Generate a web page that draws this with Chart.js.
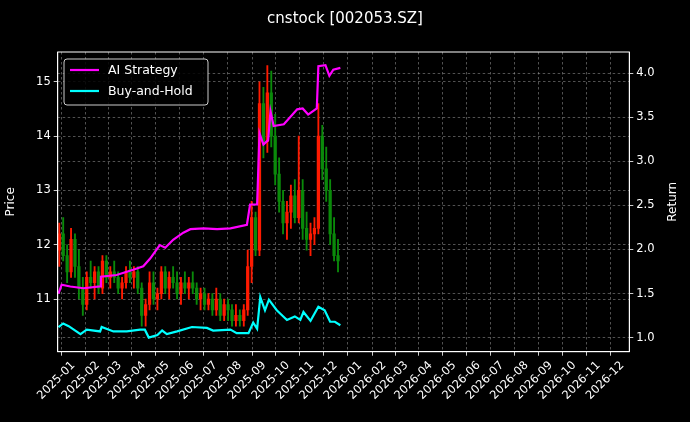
<!DOCTYPE html>
<html>
<head>
<meta charset="utf-8">
<script src="https://cdn.jsdelivr.net/npm/chart.js@4"></script>
<style>
  html, body { margin: 0; padding: 0; background: #000; }
  #wrap { width: 690px; height: 422px; }
</style>
</head>
<body>
<div id="wrap"><canvas id="c" width="690" height="422"></canvas></div>
<script>
// days counted from 2025-01-01
var monthLabels = ['2025-01','2025-02','2025-03','2025-04','2025-05','2025-06','2025-07','2025-08','2025-09','2025-10','2025-11','2025-12',
                   '2026-01','2026-02','2026-03','2026-04','2026-05','2026-06','2026-07','2026-08','2026-09','2026-10','2026-11','2026-12'];

var candleDays = [-18,-13,-8,-3,2,7,12,17,22,27,32,37,42,47,52,57,62,67,72,77,82,87,92,97,102,107,112,117,122,127,132,137,142,147,152,157,162,167,172,177,182,187,192,197,202,207,212,217,222,227,232,237,242,247,252,257,262,267,272,277,282,287,292,297,302,307,312,317,322,327,332,337];
var opens  = [11.9,12.2,11.8,11.5,12.1,11.6,11.2,10.9,11.4,11.3,11.5,11.2,11.7,11.4,11.5,11.4,11.2,11.3,11.5,11.4,11.5,11.2,10.7,10.9,11.3,11.0,11.1,11.5,11.2,11.4,11.3,11.1,11.3,11.2,11.3,11.2,11.0,11.1,10.9,11.0,10.8,11.0,10.7,10.9,10.8,10.6,10.7,10.6,10.8,11.6,12.5,11.9,14.6,13.9,14.8,14.0,13.3,12.8,12.4,12.6,12.9,12.5,13.0,12.3,12.1,12.2,12.3,14.0,13.4,13.0,12.2,11.8];
var highs  = [12.4,12.5,12.0,12.3,12.2,11.9,11.4,11.5,11.7,11.6,11.6,11.8,11.8,11.6,11.7,11.5,11.4,11.6,11.7,11.6,11.6,11.3,11.0,11.5,11.5,11.2,11.6,11.6,11.5,11.6,11.5,11.4,11.5,11.4,11.5,11.3,11.2,11.2,11.1,11.1,11.2,11.1,11.0,11.0,10.9,10.9,10.8,10.9,11.9,12.8,12.6,15.0,14.9,15.3,15.2,14.4,13.6,13.0,12.8,13.1,13.2,14.0,13.2,12.6,12.4,12.5,14.6,14.2,13.8,13.2,12.5,12.1];
var lows   = [11.6,11.7,11.3,11.4,11.4,11.0,10.7,10.8,11.2,11.0,11.1,11.1,11.3,11.2,11.3,11.1,11.0,11.2,11.3,11.2,11.1,10.5,10.5,10.8,10.9,10.8,11.0,11.1,11.0,11.2,11.0,10.9,11.1,11.0,11.1,10.9,10.8,10.8,10.8,10.7,10.7,10.6,10.6,10.6,10.5,10.5,10.5,10.5,10.7,11.3,11.8,11.8,13.6,13.7,13.8,13.1,12.6,12.2,12.1,12.3,12.4,12.4,12.1,11.9,11.8,12.0,12.2,13.2,12.8,12.0,11.7,11.5];
var closes = [12.2,11.8,11.5,12.1,11.6,11.2,10.9,11.4,11.3,11.5,11.2,11.7,11.4,11.5,11.4,11.2,11.3,11.5,11.4,11.5,11.2,10.7,10.9,11.3,11.0,11.1,11.5,11.2,11.4,11.3,11.1,11.3,11.2,11.3,11.2,11.0,11.1,10.9,11.0,10.8,11.0,10.7,10.9,10.8,10.6,10.7,10.6,10.8,11.6,12.5,11.9,14.6,13.9,14.8,14.0,13.3,12.8,12.4,12.6,12.9,12.5,13.0,12.3,12.1,12.2,12.3,14.0,13.4,13.0,12.2,11.8,11.7];

var aiDays   = [-19,-15,-4,13,34,35,55,76,89,98,110,117,127,140,149,166,183,200,221,225,234,237,242,248,251,255,268,285,292,299,310,312,321,326,331,340];
var aiReturn = [1.50,1.60,1.58,1.56,1.58,1.69,1.71,1.77,1.81,1.90,2.05,2.02,2.11,2.19,2.23,2.24,2.23,2.24,2.28,2.51,2.51,3.32,3.19,3.24,3.57,3.40,3.42,3.59,3.60,3.53,3.60,4.08,4.09,3.97,4.04,4.06];

var bhDays   = [-19,-13,-6,9,17,34,36,51,68,85,91,96,107,113,119,132,151,170,178,200,208,223,229,234,238,244,249,259,272,282,289,293,302,312,320,327,333,340];
var bhReturn = [1.12,1.16,1.13,1.04,1.09,1.07,1.12,1.07,1.07,1.09,1.09,1.00,1.03,1.08,1.04,1.07,1.12,1.11,1.08,1.09,1.05,1.05,1.17,1.10,1.46,1.31,1.43,1.31,1.20,1.24,1.20,1.29,1.19,1.35,1.31,1.18,1.18,1.14];

function dayOf(label) {
    var p = label.split('-');
    return (Date.UTC(+p[0], +p[1] - 1, 1) - Date.UTC(2025, 0, 1)) / 86400000;
}
var monthDays = monthLabels.map(dayOf);

var UP = '#ff1a00', DOWN = '#0a8a0a';
var candleColors = closes.map(function (c, i) { return c >= opens[i] ? UP : DOWN; });
var wickData = candleDays.map(function (d, i) { return { x: d, y: [lows[i], highs[i]] }; });
var bodyData = candleDays.map(function (d, i) { return { x: d, y: [opens[i], closes[i]] }; });
var aiData = aiDays.map(function (d, i) { return { x: d, y: aiReturn[i] }; });
var bhData = bhDays.map(function (d, i) { return { x: d, y: bhReturn[i] }; });

var FONT = 'DejaVu Sans';
var gridStyle = { color: 'rgba(170,170,170,0.6)', tickColor: '#fff', tickLength: 4, lineWidth: 0.8 };
var borderStyle = { color: '#fff', dash: [2.5, 2.5] };

var overlay = {
    id: 'overlay',
    beforeDraw: function (chart) {
        var ctx = chart.ctx;
        ctx.save();
        ctx.fillStyle = '#000';
        ctx.fillRect(0, 0, chart.width, chart.height);
        ctx.restore();
    },
    afterDraw: function (chart) {
        var ctx = chart.ctx, a = chart.chartArea;
        ctx.save();
        ctx.strokeStyle = '#fff';
        ctx.lineWidth = 1;
        ctx.setLineDash([]);
        ctx.strokeRect(a.left, a.top, a.right - a.left, a.bottom - a.top);
        ctx.fillStyle = '#fff';
        ctx.font = '15px ' + FONT;
        ctx.textAlign = 'center';
        ctx.textBaseline = 'middle';
        ctx.fillText('cnstock [002053.SZ]', 345, 19);
        // right axis title, read bottom to top
        ctx.save();
        ctx.translate(673, (a.top + a.bottom) / 2);
        ctx.rotate(-Math.PI / 2);
        ctx.font = '12px ' + FONT;
        ctx.fillText('Return', 0, 0);
        ctx.restore();
        // legend
        ctx.fillStyle = 'rgba(0,0,0,0.85)';
        ctx.strokeStyle = '#ccc';
        ctx.beginPath();
        ctx.roundRect(64, 59, 144, 46, 3);
        ctx.fill();
        ctx.stroke();
        var items = [['AI Strategy', '#ff00ff', 70], ['Buy-and-Hold', '#00ffff', 91]];
        ctx.font = '12.5px ' + FONT;
        ctx.textAlign = 'left';
        items.forEach(function (it) {
            ctx.strokeStyle = it[1];
            ctx.lineWidth = 2.2;
            ctx.beginPath();
            ctx.moveTo(70, it[2]);
            ctx.lineTo(99, it[2]);
            ctx.stroke();
            ctx.fillStyle = '#fff';
            ctx.fillText(it[0], 108, it[2] + 1);
        });
        ctx.restore();
    }
};

new Chart(document.getElementById('c'), {
    type: 'bar',
    data: {
        datasets: [
            { type: 'line', label: 'AI Strategy', data: aiData, yAxisID: 'y1', borderColor: '#ff00ff', borderWidth: 2.2, pointRadius: 0, tension: 0, order: 0 },
            { type: 'line', label: 'Buy-and-Hold', data: bhData, yAxisID: 'y1', borderColor: '#00ffff', borderWidth: 2.2, pointRadius: 0, tension: 0, order: 1 },
            { label: 'wick', data: wickData, yAxisID: 'y', backgroundColor: candleColors, barThickness: 1.2, grouped: false, order: 3 },
            { label: 'body', data: bodyData, yAxisID: 'y', backgroundColor: candleColors, barThickness: 2.6, grouped: false, order: 2, minBarLength: 1 }
        ]
    },
    options: {
        responsive: false,
        animation: false,
        layout: { padding: { top: 52, left: 0, right: 0, bottom: 0 } },
        plugins: { legend: { display: false }, tooltip: { enabled: false } },
        scales: {
            x: {
                type: 'linear', min: -20, max: 708, offset: false,
                afterBuildTicks: function (s) { s.ticks = monthDays.map(function (d) { return { value: d }; }); },
                afterFit: function (s) { s.height = 70.3; },
                ticks: {
                    color: '#fff', font: { family: FONT, size: 11.5 }, minRotation: 45, maxRotation: 45, autoSkip: false,
                    callback: function (v) { var i = monthDays.indexOf(v); return i >= 0 ? monthLabels[i] : ''; }
                },
                grid: gridStyle,
                border: borderStyle
            },
            y: {
                position: 'left', min: 10.03, max: 15.55,
                afterBuildTicks: function (s) { s.ticks = [11, 12, 13, 14, 15].map(function (v) { return { value: v }; }); },
                afterFit: function (s) { s.width = 57.7; },
                ticks: { color: '#fff', font: { family: FONT, size: 11.5 }, callback: function (v) { return v; } },
                title: { display: true, text: 'Price', color: '#fff', font: { family: FONT, size: 12 } },
                grid: gridStyle,
                border: borderStyle
            },
            y1: {
                position: 'right', min: 0.84, max: 4.24,
                afterBuildTicks: function (s) { s.ticks = [1.0, 1.5, 2.0, 2.5, 3.0, 3.5, 4.0].map(function (v) { return { value: v }; }); },
                afterFit: function (s) { s.width = 60.7; },
                ticks: { color: '#fff', font: { family: FONT, size: 11.5 }, callback: function (v) { return v.toFixed(1); } },
                grid: gridStyle,
                border: borderStyle
            }
        }
    },
    plugins: [overlay]
});
</script>
</body>
</html>
